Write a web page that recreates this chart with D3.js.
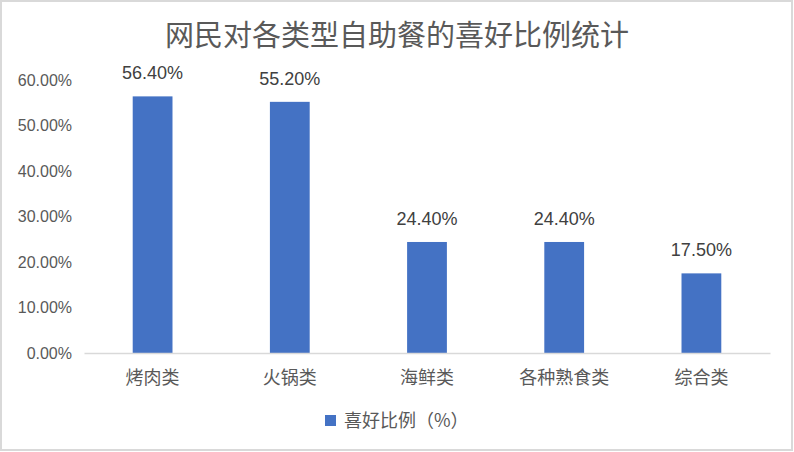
<!DOCTYPE html>
<html><head><meta charset="utf-8">
<script src="https://cdn.jsdelivr.net/npm/d3@7"></script>
<style>body{margin:0;background:#fff}svg{display:block}</style>
</head><body>
<svg id="c" width="794" height="452"></svg>
<script>
const title = "网民对各类型自助餐的喜好比例统计";
const categories = ["烤肉类","火锅类","海鲜类","各种熟食类","综合类"];
const values = [56.4, 55.2, 24.4, 24.4, 17.5];
const yTicks = [0,10,20,30,40,50,60];
const seriesName = "喜好比例（%）";

const svg = d3.select("#c");
const W = 794, H = 452;
const m = {left:84, right:24, top:80, bottom:99};
const x = d3.scaleBand().domain(categories).range([m.left, W - m.right]).paddingInner(0.71).paddingOuter(0.355);
const y = d3.scaleLinear().domain([0,60]).range([H - m.bottom, m.top]);
const cjk = "'Noto Sans CJK SC','Noto Sans',sans-serif";
const lat = "'Liberation Sans','DejaVu Sans',sans-serif";

svg.append("rect").attr("x",1).attr("y",1).attr("width",W-3).attr("height",H-3)
  .attr("fill","#fff").attr("stroke","#d9d9d9").attr("stroke-width",2);

svg.append("text").attr("x",397).attr("y",46).attr("text-anchor","middle")
  .attr("font-family",cjk).attr("font-size",29).attr("fill","#595959").text(title);

// y axis labels
const ya = svg.append("g").attr("transform",`translate(${m.left},0)`)
  .call(d3.axisLeft(y).tickValues(yTicks).tickSize(0).tickPadding(12).tickFormat(d => d.toFixed(2) + "%"));
ya.select(".domain").remove();
ya.selectAll("text").attr("font-family",lat).attr("font-size",16).attr("fill","#595959");

// bars
svg.append("g").selectAll("rect").data(values).join("rect")
  .attr("x",(d,i)=>x(categories[i])).attr("width",x.bandwidth())
  .attr("y",d=>y(d)).attr("height",d=>y(0)-y(d)).attr("fill","#4472c4");

// x axis
const xa = svg.append("g").attr("transform",`translate(0,${y(0)})`)
  .call(d3.axisBottom(x).tickSize(0).tickPadding(18));
xa.select(".domain").attr("stroke","#d9d9d9").attr("stroke-width",1.5);
xa.selectAll("text").attr("font-family",cjk).attr("font-size",18).attr("fill","#595959");

// data labels
svg.append("g").selectAll("text").data(values).join("text")
  .attr("x",(d,i)=>x(categories[i]) + x.bandwidth()/2).attr("y",d=>y(d)-17)
  .attr("text-anchor","middle").attr("font-family",lat).attr("font-size",18).attr("fill","#404040")
  .text(d=>d.toFixed(2)+"%");

// legend
const lg = svg.append("g");
lg.append("rect").attr("x",325).attr("y",415).attr("width",11).attr("height",11).attr("fill","#4472c4");
lg.append("text").attr("x",344).attr("y",427).attr("font-family",cjk).attr("font-size",18).attr("fill","#595959").text(seriesName);
</script>
</body></html>
